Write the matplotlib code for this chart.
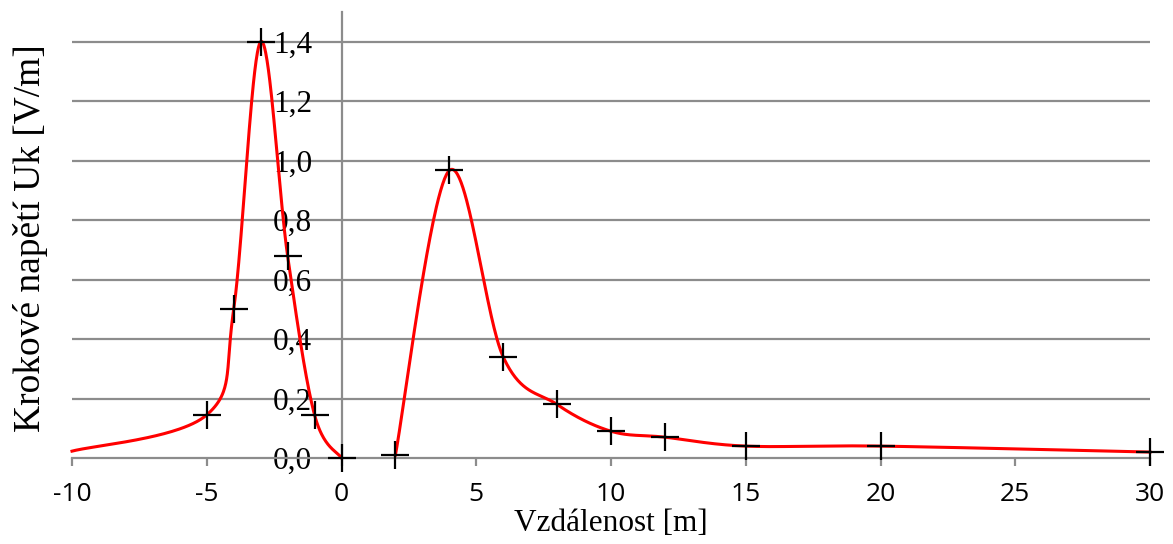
import numpy as np
import matplotlib.pyplot as plt

# data
x_left = [-10, -5, -4, -3, -2, -1, 0]
y_left = [0.023, 0.145, 0.50, 1.40, 0.68, 0.145, 0.0]
x_right = [2, 4, 6, 8, 10, 12, 15, 20, 30]
y_right = [0.01, 0.967, 0.34, 0.18, 0.09, 0.07, 0.04, 0.04, 0.02]
# first left point only shapes the curve (marker not visible in the chart)
x_marks = x_left[1:] + x_right
y_marks = y_left[1:] + y_right

x_ticks = [-10, -5, 0, 5, 10, 15, 20, 25, 30]
y_ticks = [0.0, 0.2, 0.4, 0.6, 0.8, 1.0, 1.2, 1.4]


def smooth(xs, ys, sx=26.95, sy=298.0, n=60):
    # catmull-rom in pixel-like space, roughly like excel's smoothed line
    p = np.column_stack([np.array(xs) * sx, np.array(ys) * sy])
    p = np.vstack([p[0], p, p[-1]])
    out = []
    for i in range(1, len(p) - 2):
        p0, p1, p2, p3 = p[i - 1], p[i], p[i + 1], p[i + 2]
        c1 = p1 + (p2 - p0) / 6
        c2 = p2 - (p3 - p1) / 6
        t = np.linspace(0, 1, n)[:, None]
        seg = ((1 - t) ** 3 * p1 + 3 * (1 - t) ** 2 * t * c1
               + 3 * (1 - t) * t ** 2 * c2 + t ** 3 * p2)
        out.append(seg)
    out = np.vstack(out)
    return out[:, 0] / sx, out[:, 1] / sy


fig = plt.figure(figsize=(11.73, 5.44), dpi=100)
ax = fig.add_axes([72 / 1173, 1 - 458 / 544, 1078 / 1173, 446 / 544])

grid_c = '#8c8c8c'
for yv in y_ticks[1:]:
    ax.axhline(yv, color=grid_c, lw=1.6, zorder=1)

for xs, ys in [(x_left, y_left), (x_right, y_right)]:
    sxv, syv = smooth(xs, ys)
    ax.plot(sxv, syv, color='red', lw=2.2, zorder=3, clip_on=False)

ax.plot(x_marks, y_marks, ls='none', marker='+', ms=20, mew=1.6,
        color='black', zorder=4, clip_on=False)

ax.set_xlim(-10, 30)
ax.set_ylim(0, 1.5)

ax.spines['top'].set_visible(False)
ax.spines['right'].set_visible(False)
ax.spines['left'].set_position(('data', 0))
ax.spines['left'].set_color(grid_c)
ax.spines['bottom'].set_color(grid_c)
ax.spines['left'].set_linewidth(1.6)
ax.spines['bottom'].set_linewidth(1.6)

ax.set_xticks(x_ticks)
ax.set_xticklabels([str(v) for v in x_ticks], fontsize=19, family='Open Sans')
ax.tick_params(axis='x', direction='out', length=6, width=1.6, color=grid_c, pad=11)

ax.set_yticks(y_ticks)
ax.set_yticklabels([('%.1f' % v).replace('.', ',') for v in y_ticks],
                   fontsize=22.5, family='Liberation Serif')
ax.tick_params(axis='y', length=0, pad=21)

ax.set_xlabel('Vzdálenost [m]', fontsize=22.5, family='Liberation Serif', labelpad=2)
fig.text(31 / 1173, 1 - 238 / 544, 'Krokové napětí Uk [V/m]', rotation=90,
         fontsize=27, family='Liberation Serif', ha='center', va='center')

fig.savefig('out.png', dpi=100)
